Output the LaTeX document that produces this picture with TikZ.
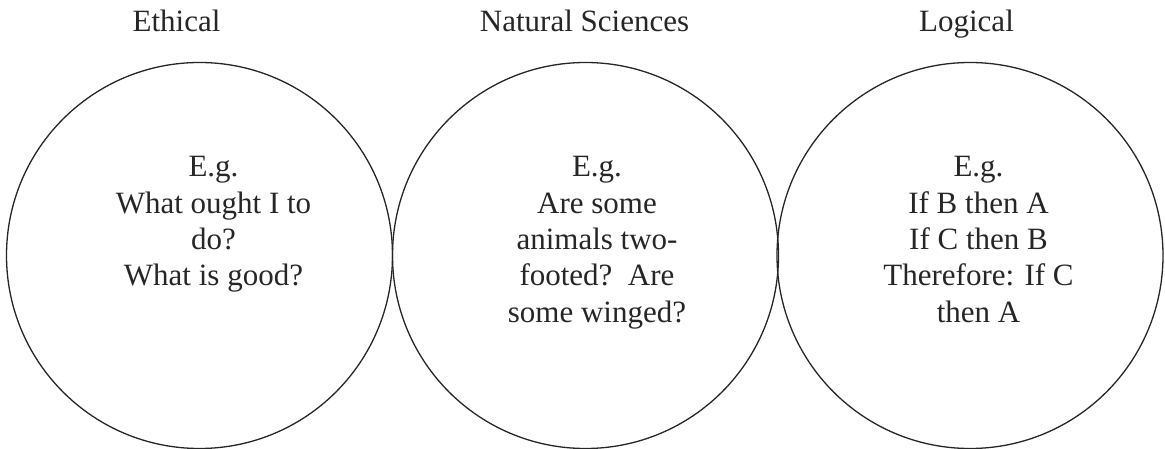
\documentclass[tikz,border=0pt]{standalone}
\usepackage{fontspec}
\setmainfont{Liberation Serif}
\begin{document}
\begin{tikzpicture}[x=1pt,y=-1pt,
  ring/.style={draw=black!85, line width=1.3pt, circle, minimum size=386pt, inner sep=0pt},
  title/.style={anchor=base, inner sep=0pt, text=black!85, font=\fontsize{31}{36.4}\selectfont},
  body/.style={anchor=base, inner sep=0pt, text=black!85, font=\fontsize{31}{36.4}\selectfont}]
\useasboundingbox (0,0) rectangle (1165,449);
\node[ring] (c1) at (199.5,255.5) {};
\node[ring] (c2) at (585.5,255.5) {};
\node[ring] (c3) at (970,255.5) {};
\node[title] (t1) at (176.5,31.5) {Ethical};
\node[title] (t2) at (584.5,31.5) {Natural Sciences};
\node[title] (t3) at (966.5,31.5) {Logical};
\node[body] (b1) at (213.5,176.7) {\begin{tabular}[t]{@{}c@{}}E.g.\\What ought I to\\do?\\What is good?\end{tabular}};
\node[body] (b2) at (597,176.7) {\begin{tabular}[t]{@{}c@{}}E.g.\\Are some\\animals two-\\footed?\ \ Are\\some winged?\end{tabular}};
\node[body] (b3) at (978.5,176.7) {\begin{tabular}[t]{@{}c@{}}E.g.\\If B then A\\If C then B\\Therefore: If C\\then A\end{tabular}};
\end{tikzpicture}
\end{document}
